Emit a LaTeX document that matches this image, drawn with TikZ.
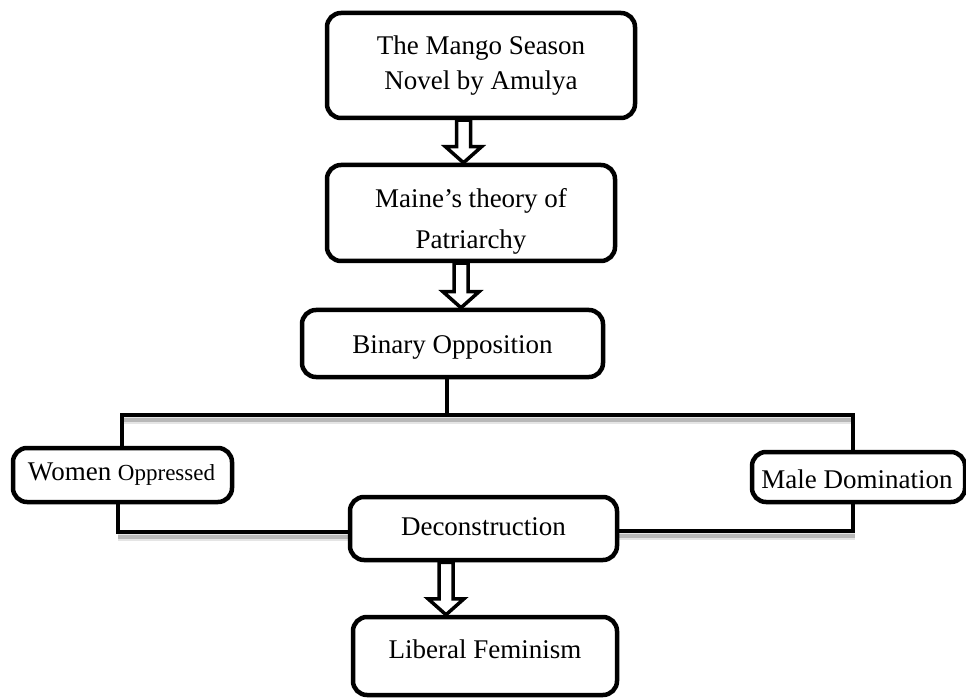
\documentclass[tikz,border=0pt]{standalone}
\usepackage{fontspec}
\setmainfont{Liberation Serif}
\usetikzlibrary{calc,backgrounds}
\tikzset{
  box/.style={draw, line width=4.5pt, rounded corners=14pt, fill=white, inner sep=0pt, align=center,
    font=\fontsize{27}{35}\selectfont},
  lbl/.style={inner sep=0pt, align=center, font=\fontsize{27}{35}\selectfont},
  blockarr/.style={draw, line width=3.5pt, fill=white, line join=miter},
  conn/.style={draw, line width=4pt, line join=miter},
  shadeA/.style={draw, line width=8pt, black!10, line join=round},
  shadeB/.style={draw, line width=4pt, black!28, line join=round},
}
\newcommand\blockarrow[2]{%
  \path[blockarr] let \p1=(#1), \p2=(#2) in
    (\x1-7pt,\y1) -- (\x1+7pt,\y1) -- (\x1+7pt,\y2+16pt) -- (\x1+18pt,\y2+16pt) --
    (\x1,\y2) -- (\x1-18pt,\y2+16pt) -- (\x1-7pt,\y2+16pt) -- cycle;}
\begin{document}
\begin{tikzpicture}[x=1pt,y=-1pt]
\useasboundingbox (0,0) rectangle (966,700);

% boxes
\node[box, minimum width=308pt, minimum height=105pt] (b1) at (481,65.5) {The Mango Season\\Novel by Amulya};
\node[box, minimum width=288pt, minimum height=96pt] (b2) at (471,213) {};
\node[lbl] (t2) at (471,221) {Maine’s theory of\\[6pt]Patriarchy};
\node[box, minimum width=301pt, minimum height=67pt] (b3) at (452.5,343.5) {};
\node[lbl] (t3) at (452.5,347) {Binary Opposition};
\node[box, minimum width=219pt, minimum height=54pt] (wo) at (122.5,475) {};
\node[lbl] (two) at (121.5,474) {Women {\fontsize{23}{30}\selectfont Oppressed}};
\node[box, minimum width=213pt, minimum height=50pt] (md) at (858.5,477) {};
\node[lbl] (tmd) at (857,479) {Male Domination};
\node[box, minimum width=267pt, minimum height=63pt] (dc) at (483.5,528.5) {};
\node[lbl] (tdc) at (483.5,527) {Deconstruction};
\node[box, minimum width=264pt, minimum height=78pt] (lf) at (485,656) {};
\node[lbl] (tlf) at (485,649) {Liberal Feminism};

% helper coordinates
\coordinate (ax1) at (463.5,0);
\coordinate (ax2) at (461,0);
\coordinate (ax3) at (446,0);
\coordinate (vx) at (447,0);
\coordinate (jL) at (122,415);
\coordinate (jR) at (853,415);
\coordinate (cL) at (118,532);
\coordinate (cR) at (853,531);

\begin{scope}[on background layer]
  % shadows
  \foreach \s in {shadeA,shadeB}{
    \path[\s] ($(jL)+(2,5)$) -- ($(jR)+(2,5)$);
    \path[\s] ($(cL)+(0,5)$) -- ($(cL -| dc.west)+(0,5)$);
    \path[\s] ($(cR -| dc.east)+(0,5)$) -- ($(cR)+(2,5)$);
  }
  % connectors
  \path[conn] (vx |- b3.south) -- (vx |- jL);
  \path[conn] (wo.north -| jL) -- (jL) -- (jR) -- (jR |- md.north);
  \path[conn] (cL |- wo.south) -- (cL) -- (cL -| dc.west);
  \path[conn] (cR |- md.south) -- (cR) -- (cR -| dc.east);
  % block arrows
  \blockarrow{ax1 |- b1.south}{ax1 |- b2.north}
  \blockarrow{ax2 |- b2.south}{ax2 |- b3.north}
  \blockarrow{ax3 |- dc.south}{ax3 |- lf.north}
\end{scope}
\end{tikzpicture}
\end{document}
